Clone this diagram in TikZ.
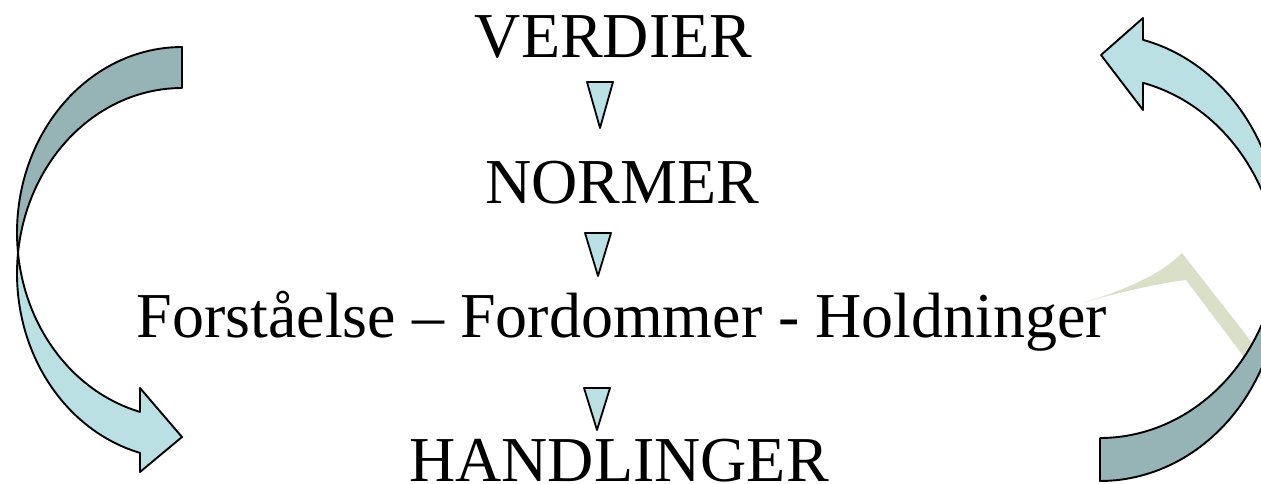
\documentclass[tikz,border=0pt]{standalone}
\usepackage{fontspec}
\setmainfont{Liberation Serif}
\definecolor{lightband}{HTML}{BBE0E3}
\definecolor{darkband}{HTML}{96B3B6}
\definecolor{wmark}{HTML}{DADFC8}
\begin{document}
\begin{tikzpicture}[x=1pt,y=-1pt,line join=round,
  lbl/.style={font=\fontsize{64}{70}\selectfont, anchor=base, inner sep=0pt},
  band/.style={draw=black, line width=1.9pt},
  tri/.style={draw=black, fill=lightband, line width=1.8pt}]
\clip (0,0) rectangle (1261,483);
\fill[white] (0,0) rectangle (1261,483);
% faint watermark chevron
\fill[wmark] (1082,303) .. controls (1125,290) and (1160,275) .. (1182,253)
  -- (1275,372) -- (1275,398) -- (1186,280)
  .. controls (1160,283) and (1120,292) .. (1082,303) -- cycle;
% left curved arrow
\draw[band, fill=darkband]
  plot[domain=270:173.66, samples=60] ({182+165*cos(\x)},{232.5+185.5*sin(\x)})
  -- plot[domain=186.34:270, samples=60] ({182+165*cos(\x)},{273.5+185.5*sin(\x)})
  -- cycle;
\draw[band, fill=lightband]
  plot[domain=186.34:104.75, samples=60] ({182+165*cos(\x)},{273.5+185.5*sin(\x)})
  -- (140,472) -- (182,437) -- (140,388)
  -- plot[domain=104.75:173.66, samples=60] ({182+165*cos(\x)},{232.5+185.5*sin(\x)})
  -- cycle;
% right curved arrow
\draw[band, fill=darkband]
  plot[domain=90:6.11, samples=60] ({1100+180*cos(\x)},{236+202*sin(\x)})
  -- plot[domain=-6.11:90, samples=60] ({1100+180*cos(\x)},{279+202*sin(\x)})
  -- cycle;
\draw[band, fill=lightband]
  plot[domain=-6.11:-76.18, samples=60] ({1100+180*cos(\x)},{279+202*sin(\x)})
  -- (1143,110) -- (1101,55) -- (1143,18)
  -- plot[domain=-76.18:6.11, samples=60] ({1100+180*cos(\x)},{236+202*sin(\x)})
  -- cycle;
% labels
\node[lbl] (verdier) at (613.5,57) {VERDIER};
\node[lbl] (normer) at (622,203) {NORMER};
\node[lbl] (forst) at (622,337) {Forståelse – Fordommer - Holdninger};
\node[lbl] (handl) at (619,481) {HANDLINGER};
% small down triangles
\draw[tri] (587,82) -- (613,82) -- (600,128) -- cycle;
\draw[tri] (585,233) -- (611,233) -- (598,276) -- cycle;
\draw[tri] (584,388) -- (610,388) -- (597,430) -- cycle;
\end{tikzpicture}
\end{document}
